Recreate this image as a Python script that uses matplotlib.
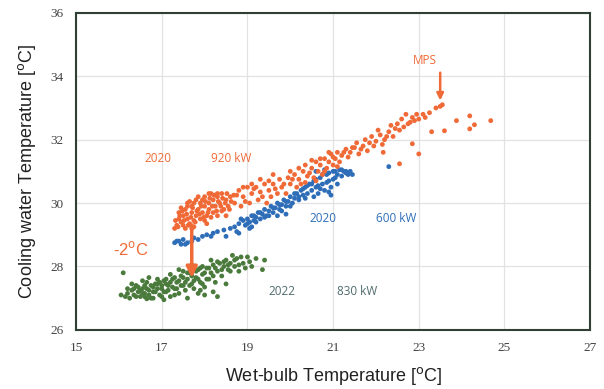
import numpy as np
import matplotlib.pyplot as plt

# 2020, 920 kW (orange)
pts_920 = [
    (17.35, 29.3), (17.4, 29.5), (17.45, 29.4), (17.5, 29.6), (17.5, 29.3), (17.55, 29.8),
    (17.6, 29.5), (17.6, 30.0), (17.65, 29.35), (17.7, 29.7), (17.7, 29.9), (17.75, 29.45),
    (17.8, 29.6), (17.8, 30.1), (17.85, 29.8), (17.9, 29.5), (17.9, 30.0), (17.95, 29.7),
    (18.0, 29.9), (18.0, 30.2), (18.05, 29.6), (18.1, 30.0), (18.1, 29.8), (18.15, 30.3),
    (18.2, 29.7), (18.2, 30.1), (18.25, 29.9), (18.3, 30.2), (18.3, 29.6), (18.35, 30.0),
    (18.4, 30.3), (18.45, 29.8), (18.5, 30.1), (18.55, 29.9), (18.6, 30.2), (17.3, 29.2),
    (17.4, 29.7), (17.55, 29.2), (17.65, 30.05), (17.75, 29.25), (17.85, 30.2), (18.0, 29.45),
    (18.15, 29.55), (18.25, 30.25), (18.4, 29.75), (18.5, 29.6),
    (17.32, 29.45), (17.38, 29.25), (17.42, 29.6), (17.48, 29.75), (17.52, 29.45), (17.58, 29.65),
    (17.62, 29.3), (17.68, 29.55), (17.72, 29.85), (17.78, 29.4), (17.82, 29.75), (17.88, 29.65),
    (17.92, 29.9), (17.98, 29.55), (18.02, 30.05), (18.08, 29.7), (18.12, 30.15), (18.18, 29.9),
    (18.22, 30.25), (18.28, 29.75), (18.32, 30.05), (18.38, 29.9), (18.42, 30.15), (18.48, 30.0),
    (18.52, 30.3), (18.58, 29.8), (18.62, 30.05), (18.68, 30.25), (17.45, 29.85), (17.6, 29.9),
    (17.75, 30.0), (17.95, 30.1), (18.1, 30.3), (18.3, 30.3), (18.05, 29.35), (17.7, 29.2),
    (18.7, 30.0), (18.8, 30.4), (18.85, 29.9), (18.9, 30.2), (19.0, 30.5), (19.05, 30.0),
    (19.1, 30.3), (19.2, 30.5), (19.25, 30.1), (19.3, 30.35), (19.4, 30.6), (19.45, 30.0),
    (19.5, 30.4), (19.55, 30.2), (19.6, 30.6), (19.7, 30.3), (19.75, 30.75), (19.8, 30.5),
    (19.9, 30.3), (19.95, 30.8), (20.0, 30.6), (20.1, 30.9), (20.15, 30.5), (20.2, 30.75),
    (20.3, 31.0), (20.35, 30.65), (20.4, 30.85), (20.5, 31.1), (20.55, 30.8), (20.6, 31.3),
    (20.65, 31.0), (20.7, 31.2), (20.75, 30.9), (20.8, 31.4), (20.85, 31.1), (20.9, 31.3),
    (20.95, 31.55), (21.0, 31.2), (21.05, 31.4), (21.1, 31.6), (21.15, 31.3), (21.2, 31.5),
    (21.3, 31.7), (21.35, 31.45), (21.4, 31.6),
    (18.75, 30.25), (18.95, 30.05), (19.15, 30.45), (19.35, 30.2), (19.5, 30.7), (19.65, 30.45),
    (19.85, 30.6), (20.05, 30.75), (20.25, 30.6), (20.45, 30.95), (20.6, 30.7), (20.7, 31.4),
    (20.8, 31.0), (20.9, 31.6), (21.0, 31.45), (21.1, 31.15), (21.25, 31.6), (21.45, 31.75),
    (19.3, 30.75), (19.6, 30.9), (20.0, 31.0), (20.2, 31.1), (20.35, 31.2), (20.5, 31.35),
    (18.9, 30.5), (19.1, 30.6),
    (21.5, 31.75), (21.6, 31.55), (21.7, 31.8), (21.8, 31.65), (21.85, 31.9), (21.9, 32.1),
    (21.95, 31.8), (22.0, 31.95), (22.1, 32.15), (22.15, 31.85), (22.2, 32.0), (22.3, 32.25),
    (22.35, 32.45), (22.4, 32.1), (22.5, 32.5), (22.55, 32.3), (22.6, 32.65), (22.7, 32.8),
    (22.75, 32.5), (22.85, 32.7), (22.9, 32.6), (23.0, 32.65), (23.1, 32.8), (23.25, 32.85),
    (21.55, 31.9), (21.75, 32.0), (22.05, 32.3), (22.25, 32.1), (22.45, 32.35), (22.65, 32.4),
    (22.8, 32.55), (21.65, 31.7), (22.95, 32.8), (23.15, 32.7), (23.4, 33.0),
    (23.5, 33.05), (23.55, 33.1),
    (22.55, 31.24), (23.0, 31.55), (22.85, 31.87), (22.17, 31.6), (23.6, 32.28), (23.3, 32.25),
    (23.88, 32.6), (24.19, 32.75), (24.3, 32.47), (24.19, 32.34), (24.68, 32.6),
]

# 2020, 600 kW (blue)
pts_600 = [
    (17.3, 28.75), (17.35, 28.8), (17.45, 28.7), (17.5, 28.85), (17.6, 28.75), (17.75, 28.9),
    (17.85, 28.85), (17.95, 28.95), (18.05, 29.0), (18.15, 28.95), (18.3, 29.1), (18.45, 29.15),
    (18.6, 29.2), (18.75, 29.1), (18.8, 29.35), (18.9, 29.45), (18.95, 29.3), (19.0, 29.5),
    (19.05, 29.4), (19.1, 29.6), (19.15, 29.45), (19.2, 29.55), (19.25, 29.7), (19.3, 29.5),
    (19.35, 29.65), (19.4, 29.8), (19.45, 29.6), (19.5, 29.75), (19.55, 29.9), (19.6, 29.7),
    (19.65, 29.85), (19.7, 30.0), (19.75, 29.8), (19.8, 29.95), (19.85, 30.1), (19.9, 29.9),
    (19.95, 30.05), (20.0, 30.2), (20.05, 30.0), (20.1, 30.15), (20.15, 30.3), (20.2, 30.1),
    (20.25, 30.4), (20.3, 30.25), (20.35, 30.5), (20.4, 30.3), (20.45, 30.6), (20.5, 30.4),
    (20.55, 30.7), (20.6, 30.5), (20.65, 30.3), (20.7, 30.8), (20.75, 30.6), (20.8, 30.4),
    (20.85, 30.9), (20.9, 30.7), (20.95, 30.5), (21.0, 31.0), (21.05, 30.8), (21.1, 30.6),
    (21.15, 31.05), (21.2, 30.85), (21.25, 31.0), (21.3, 30.95), (21.4, 31.0), (21.45, 30.9),
    (20.9, 30.35), (20.95, 30.25), (18.8, 29.05), (19.1, 29.25), (18.5, 28.95), (19.9, 29.65),
    (20.6, 31.0), (20.8, 31.05),
    (17.4, 28.8), (17.55, 28.7), (17.7, 28.8), (18.2, 29.05), (18.7, 29.25), (18.85, 29.5),
    (19.0, 29.35), (19.15, 29.6), (19.2, 29.4), (19.3, 29.7), (19.4, 29.55), (19.5, 29.6),
    (19.6, 29.85), (19.75, 29.95), (19.8, 29.75), (19.9, 30.05), (20.0, 29.9), (20.1, 30.3),
    (20.2, 30.2), (20.3, 30.45), (20.4, 30.55), (20.5, 30.6), (20.6, 30.75), (20.65, 30.55),
    (20.7, 30.45), (20.75, 30.9), (20.85, 30.65), (20.9, 30.95), (21.0, 30.75), (21.05, 31.0),
    (21.1, 30.9), (21.2, 31.05), (21.3, 31.0), (21.35, 30.9), (20.55, 30.2), (20.35, 30.15),
    (19.7, 29.6), (19.05, 29.2),
    (22.3, 31.15),
]

# 2022, 830 kW (green)
pts_830 = [
    (16.05, 27.1), (16.1, 27.8), (16.15, 27.05), (16.25, 27.0), (16.3, 27.25), (16.35, 27.1),
    (16.4, 27.4), (16.45, 27.2), (16.5, 27.05), (16.55, 27.3), (16.6, 27.15), (16.65, 27.5),
    (16.7, 27.25), (16.75, 27.0), (16.8, 27.35), (16.85, 27.2), (16.9, 27.45), (16.95, 27.1),
    (17.0, 27.3), (17.05, 27.55), (17.1, 27.2), (17.15, 27.4), (17.2, 27.05), (17.25, 27.6),
    (17.3, 27.3), (17.35, 27.5), (17.4, 27.15), (17.45, 27.7), (17.5, 27.4), (17.55, 27.25),
    (17.6, 27.6), (17.65, 27.8), (17.7, 27.45), (17.75, 27.3), (17.8, 27.65), (17.85, 27.9),
    (17.9, 27.5), (17.95, 27.75), (18.0, 27.35), (18.05, 27.95), (18.1, 27.6), (18.15, 27.8),
    (18.2, 28.05), (18.25, 27.5), (18.3, 27.85), (18.35, 28.1), (18.4, 27.7), (18.45, 28.0),
    (18.5, 28.2), (18.55, 27.9), (18.6, 28.1), (18.7, 28.0), (18.75, 28.25), (18.8, 27.85),
    (18.9, 28.1), (19.0, 28.3), (19.1, 28.0), (19.2, 28.25), (19.35, 27.9), (19.4, 28.2),
    (18.0, 27.1), (18.3, 27.05), (17.85, 27.15), (16.55, 27.55), (16.9, 27.6), (17.2, 27.75),
    (16.8, 27.0), (17.6, 27.0), (18.5, 27.45), (18.2, 27.2), (17.4, 27.9), (16.3, 27.45),
    (16.7, 27.65), (17.0, 27.05), (17.3, 27.1), (17.7, 28.05), (17.95, 28.0), (18.15, 28.2),
    (18.65, 28.35), (18.85, 28.3), (16.2, 27.3), (16.6, 27.4), (17.1, 27.6), (17.5, 27.85),
    (17.9, 27.25),
    (16.2, 27.15), (16.4, 27.05), (16.45, 27.35), (16.5, 27.25), (16.6, 27.05), (16.65, 27.3),
    (16.7, 27.1), (16.75, 27.4), (16.8, 27.2), (16.85, 27.45), (16.9, 27.3), (16.95, 27.5),
    (17.0, 27.4), (17.05, 27.2), (17.1, 27.45), (17.15, 27.25), (17.2, 27.5), (17.25, 27.35),
    (17.3, 27.65), (17.35, 27.3), (17.4, 27.55), (17.45, 27.4), (17.5, 27.65), (17.55, 27.5),
    (17.6, 27.8), (17.65, 27.4), (17.7, 27.7), (17.75, 27.55), (17.8, 27.85), (17.85, 27.6),
    (17.9, 27.95), (17.95, 27.45), (18.0, 27.8), (18.05, 27.6), (18.1, 27.95), (18.2, 27.7),
    (18.25, 27.95), (18.3, 28.15), (18.4, 27.9), (18.45, 28.15), (18.55, 28.05), (18.6, 27.85),
    (18.7, 28.2), (18.8, 28.05), (18.95, 27.95), (19.05, 28.15), (16.35, 27.3), (16.55, 27.15),
    (17.05, 26.95), (16.65, 26.98),
]

x_ticks = [15, 17, 19, 21, 23, 25, 27]
y_ticks = [26, 28, 30, 32, 34, 36]

orange = '#F06A38'
blue = '#2E6DB8'
green = '#4A7A3C'

fig = plt.figure(figsize=(6.04, 3.89), dpi=100)
ax = fig.add_axes([0.126, 0.152, 0.851, 0.815])

for pts, c in [(pts_830, green), (pts_600, blue), (pts_920, orange)]:
    arr = np.array(pts)
    ax.scatter(arr[:, 0], arr[:, 1], s=12, color=c, edgecolors='none', zorder=3)

ax.set_xlim(15, 27)
ax.set_ylim(26, 36)
ax.set_xticks(x_ticks)
ax.set_yticks(y_ticks)
ax.tick_params(length=0, pad=9, labelsize=9.5, labelcolor='#444444')
for lab in ax.get_xticklabels() + ax.get_yticklabels():
    lab.set_family('Liberation Serif')
ax.grid(True, color='#E2E2E2', linewidth=0.9)
ax.set_axisbelow(True)
for sp in ax.spines.values():
    sp.set_color('#2F3F33')
    sp.set_linewidth(1.5)

ax.set_xlabel('Wet-bulb Temperature [$^{\\mathrm{o}}$C]', fontsize=13,
              family='Liberation Sans', color='#222222', labelpad=8)
ax.set_ylabel('Cooling water Temperature [$^{\\mathrm{o}}$C]', fontsize=13,
              family='Liberation Sans', color='#222222', labelpad=9)

txt = dict(fontsize=8.5, family='Open Sans', va='center')
ax.text(16.6, 31.4, '2020', color=orange, **txt)
ax.text(18.15, 31.4, '920 kW', color=orange, **txt)
ax.text(20.45, 29.5, '2020', color=blue, **txt)
ax.text(22.0, 29.5, '600 kW', color=blue, **txt)
ax.text(19.5, 27.2, '2022', color='#4F6B6B', **txt)
ax.text(21.1, 27.2, '830 kW', color='#4F6B6B', **txt)
ax.text(23.15, 34.5, 'MPS', color=orange, ha='center', fontsize=8.5, family='Open Sans', va='center')
ax.text(15.85, 28.55, '-2$^{\\mathrm{o}}$C', color=orange, fontsize=12,
        family='Liberation Sans', va='center')

ax.annotate('', xy=(17.7, 27.55), xytext=(17.7, 29.4),
            arrowprops=dict(arrowstyle='-|>', color=orange, lw=2.5, mutation_scale=16),
            zorder=4)
ax.annotate('', xy=(23.5, 33.15), xytext=(23.5, 34.2),
            arrowprops=dict(arrowstyle='-|>', color=orange, lw=1.8, mutation_scale=10),
            zorder=4)

fig.savefig('out.png', dpi=100)
